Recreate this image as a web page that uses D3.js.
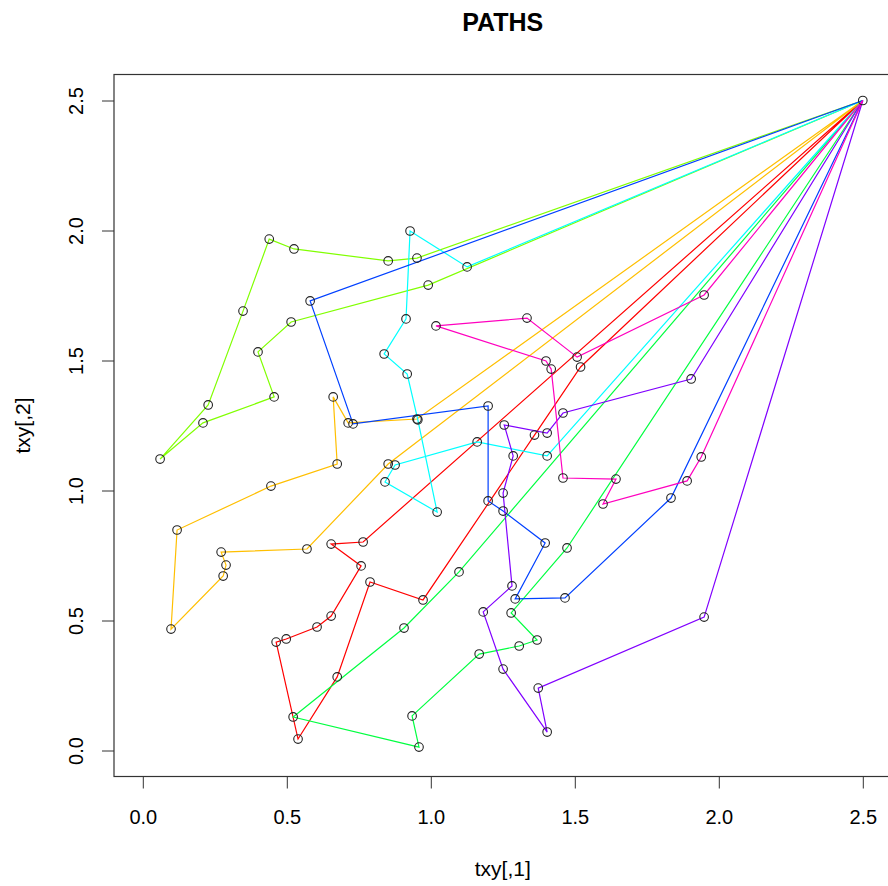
<!DOCTYPE html>
<html>
<head>
<meta charset="utf-8">
<script src="https://cdn.jsdelivr.net/npm/d3@7"></script>
<style>
body { margin: 0; background: #fff; }
text { font-family: "Liberation Sans", Arial, sans-serif; fill: #000; }
</style>
</head>
<body>
<svg width="888" height="886"></svg>
<script>
// Every path leaves from and comes back to this point.
var home = [2.5, 2.5];

// Waypoints of each path (txy[,1], txy[,2]).
var pathRed = [[1.52,1.475],[1.36,1.213],[0.973,0.579],[0.789,0.648],[0.675,0.283],[0.539,0.044],
  [0.463,0.417],[0.498,0.429],[0.605,0.475],[0.654,0.517],[0.758,0.71],[0.654,0.794],[0.765,0.802]];
var pathOrange = [[0.952,1.275],[0.713,1.26],[0.661,1.36],[0.675,1.102],[0.445,1.017],[0.119,0.848],
  [0.098,0.467],[0.279,0.671],[0.289,0.713],[0.272,0.763],[0.57,0.775],[0.852,1.102]];
var pathLime = [[0.952,1.894],[0.852,1.883],[0.525,1.929],[0.439,1.967],[0.348,1.69],[0.227,1.329],
  [0.06,1.121],[0.209,1.26],[0.456,1.36],[0.4,1.533],[0.515,1.648],[0.991,1.79]];
var pathGreen = [[1.473,0.779],[1.279,0.529],[1.369,0.425],[1.307,0.402],[1.168,0.371],[0.935,0.133],
  [0.959,0.013],[0.522,0.129],[0.907,0.471],[1.098,0.687]];
var pathCyan = [[1.126,1.86],[0.928,1.998],[0.914,1.66],[0.838,1.525],[0.918,1.448],[0.955,1.272],
  [1.022,0.917],[0.841,1.033],[0.876,1.098],[1.161,1.187],[1.404,1.133]];
var pathBlue = [[0.581,1.729],[0.73,1.256],[1.199,1.325],[1.199,0.96],[1.251,0.921],[1.397,0.798],
  [1.293,0.583],[1.466,0.587],[1.834,0.971]];
var pathPurple = [[1.949,0.513],[1.373,0.24],[1.404,0.071],[1.251,0.313],[1.182,0.533],[1.282,0.633],
  [1.251,0.99],[1.286,1.133],[1.255,1.252],[1.404,1.221],[1.459,1.298],[1.904,1.429]];
var pathMagenta = [[1.939,1.129],[1.89,1.037],[1.598,0.948],[1.643,1.044],[1.459,1.048],[1.418,1.467],
  [1.4,1.498],[1.018,1.633],[1.334,1.663],[1.508,1.513],[1.949,1.752]];

var paths = [pathRed, pathOrange, pathLime, pathGreen, pathCyan, pathBlue, pathPurple, pathMagenta];
var pathColors = ['#FF0000','#FFBF00','#80FF00','#00FF40','#00FFFF','#0040FF','#8000FF','#FF00BF'];

var xTicks = [0, 0.5, 1, 1.5, 2, 2.5];
var yTicks = [0, 0.5, 1, 1.5, 2, 2.5];

// Plot area, R style: limits padded by 4%.

var svg = d3.select('svg');
var margin = {top: 74.5, left: 114};
var width = 777.6;
var height = 702;
var graphic = svg.append('g').attr('transform', 'translate(' + margin.left + ',' + margin.top + ')');

var x = d3.scaleLinear().domain([-0.1, 2.6]).range([0, width]);
var y = d3.scaleLinear().domain([-0.1, 2.6]).range([height, 0]);

// Axes.

var xAxis = graphic.append('g')
  .attr('transform', 'translate(0,' + height + ')')
  .call(d3.axisBottom(x).tickValues(xTicks).tickFormat(d3.format('.1f')).tickSize(12).tickSizeOuter(0).tickPadding(21));

var yAxis = graphic.append('g')
  .call(d3.axisLeft(y).tickValues(yTicks).tickFormat(d3.format('.1f')).tickSize(12).tickSizeOuter(0));

graphic.selectAll('.domain').remove();
graphic.selectAll('.tick line').attr('stroke', '#333');
xAxis.selectAll('text').attr('font-size', 20).attr('font-family', null).style('fill', '#000');
yAxis.selectAll('text')
  .attr('font-size', 20).attr('font-family', null).style('fill', '#000')
  .attr('text-anchor', 'middle')
  .attr('transform', 'rotate(-90)')
  .attr('x', 0).attr('y', -31).attr('dy', null);

// Box.

graphic.append('rect')
  .attr('width', width).attr('height', height)
  .attr('fill', 'none').attr('stroke', '#333').attr('stroke-width', 1.2);

// Paths, then the points on top.

var line = d3.line().x(function(d) { return x(d[0]); }).y(function(d) { return y(d[1]); });

paths.forEach(function(p, i) {
  graphic.append('path')
    .datum([home].concat(p, [home]))
    .attr('d', line)
    .attr('fill', 'none')
    .attr('stroke', pathColors[i])
    .attr('stroke-width', 1.2);
});

var allPoints = [home];
paths.forEach(function(p) { allPoints = allPoints.concat(p); });

graphic.append('g').selectAll('circle')
  .data(allPoints)
  .enter().append('circle')
  .attr('cx', function(d) { return x(d[0]); })
  .attr('cy', function(d) { return y(d[1]); })
  .attr('r', 4.3)
  .attr('fill', 'none')
  .attr('stroke', '#222')
  .attr('stroke-width', 1.1);

// Titles.

svg.append('text')
  .attr('x', margin.left + width / 2).attr('y', 30.5)
  .attr('text-anchor', 'middle')
  .attr('font-size', 25).attr('font-weight', 'bold')
  .text('PATHS');

svg.append('text')
  .attr('x', margin.left + width / 2).attr('y', 876)
  .attr('text-anchor', 'middle')
  .attr('font-size', 21)
  .text('txy[,1]');

svg.append('text')
  .attr('transform', 'translate(30,' + (margin.top + height / 2) + ') rotate(-90)')
  .attr('text-anchor', 'middle')
  .attr('font-size', 21)
  .text('txy[,2]');
</script>
</body>
</html>
